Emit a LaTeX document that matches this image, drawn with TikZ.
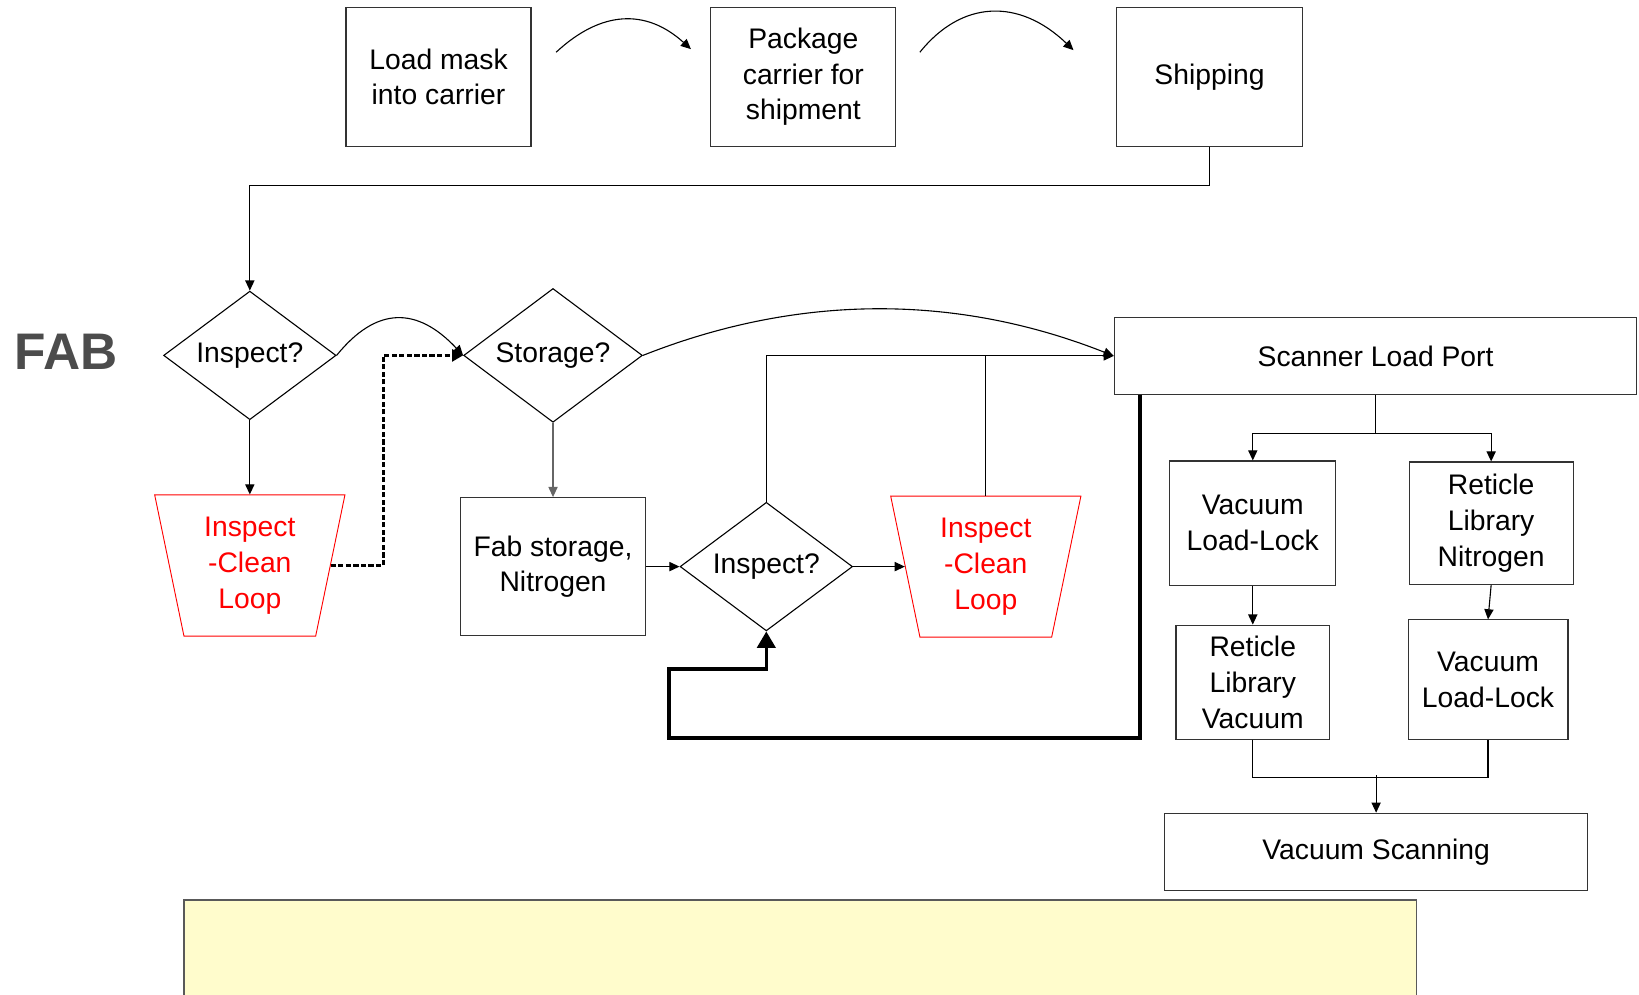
\documentclass[tikz,border=0pt]{standalone}
\usepackage{fontspec}
\setmainfont{Liberation Sans}
\usetikzlibrary{positioning,arrows.meta,shapes.geometric}

\begin{document}
\begin{tikzpicture}[
>={Triangle[length=5.5pt,width=5pt]},
line width=0.6pt,
every node/.style={font=\fontsize{15.4}{19.5}\selectfont},
box/.style={draw=black!80, align=center, inner sep=2pt},
decide/.style={draw, diamond, aspect=1.34, inner sep=0pt,
minimum width=3.3cm, minimum height=2.46cm},
cleanloop/.style={draw=red, text=red, line width=0.5pt, trapezium,
trapezium left angle=105, trapezium right angle=105,
trapezium stretches body, align=center,
minimum width=3.64cm, minimum height=2.7cm}
]

\useasboundingbox (0,0) rectangle (31.36,-19.02);

\node[draw=black!65, fill=yellow!20,
minimum width=23.58cm,
minimum height=3.6cm] (note) at (15.31,-19.02) {};

\node[font=\fontsize{28}{30}\selectfont\bfseries, text=black!70] (fablbl)
at (1.26,-6.74) {FAB};

% shipping side
\node[box,
minimum width=3.54cm,
minimum height=2.66cm] (load) at (8.39,-1.47)
{Load mask\\into carrier};

\node[box, right=3.42cm of load,
minimum width=3.54cm,
minimum height=2.66cm] (pack)
{Package\\carrier for\\shipment};

\node[box, right=4.2cm of pack,
minimum width=3.56cm,
minimum height=2.66cm] (ship)
{Shipping};

% fab
\node[decide] (insp) at (4.78,-6.8) {Inspect?};

\node[decide, right=2.42cm of insp,
minimum width=3.42cm,
minimum height=2.56cm] (stor)
{Storage?};

\node[cleanloop, below=1.42cm of insp] (loopa)
{Inspect\\-Clean\\Loop};

\node[box, below=1.42cm of stor,
minimum width=3.54cm,
minimum height=2.64cm] (fabst)
{Fab storage,\\Nitrogen};

\node[decide, right=0.64cm of fabst] (inspb) {Inspect?};

\node[cleanloop, right=0.99cm of inspb] (loopb)
{Inspect\\-Clean\\Loop};

% scanner
\node[box,
minimum width=10cm,
minimum height=1.46cm] (port) at (26.32,-6.81)
{Scanner Load Port};

\node[box,
minimum width=3.18cm,
minimum height=2.38cm] (vll) at (23.97,-10.01)
{Vacuum\\Load-Lock};

\node[box, right=1.38cm of vll,
minimum width=3.14cm,
minimum height=2.34cm] (rln)
{Reticle\\Library\\Nitrogen};

\node[box, below=0.74cm of vll,
minimum width=2.94cm,
minimum height=2.18cm] (rlv)
{Reticle\\Library\\Vacuum};

\node[box, below=0.66cm of rln, xshift=-0.06cm,
minimum width=3.06cm,
minimum height=2.28cm] (vllb)
{Vacuum\\Load-Lock};

\node[box,
minimum width=8.1cm,
minimum height=1.48cm] (vscan) at (26.33,-16.3)
{Vacuum Scanning};

\coordinate (c1a) at (10.64,-1.0);
\coordinate (c1b) at (13.22,-0.94);
\coordinate (c2a) at (17.6,-1.0);
\coordinate (c2b) at (20.54,-0.96);
\coordinate (back) at (12.8,-14.12);

\draw[->] (c1a) .. controls (11.5,-0.2) and (12.36,-0.16) .. (c1b);
\draw[->] (c2a) .. controls (18.4,0) and (19.5,0.04) .. (c2b);
\draw[->] (ship.south) -- ++(0,-0.74) -| (insp.north);

\draw[->] (insp.east) .. controls (7.2,-5.86) and (7.98,-5.86) .. (stor.west);
\draw[->] (insp.south) -- (loopa.north);
\draw[->, line width=1.6pt, dash pattern=on 2.8pt off 1.3pt,
>={Triangle[length=6pt,width=6.5pt]}]
(loopa.east) -- ++(1.0,0) |- (stor.west);
\draw[->, black!60] (stor.south) -- (fabst.north);
\draw[->] (fabst.east) -- (inspb.west);
\draw[->] (inspb.east) -- (loopb.west);
\draw[->] (inspb.north) |- (port.west);
\draw (loopb.north) -- (loopb.north |- port.west);
\draw[->] (stor.east) .. controls (15.28,-5.62) and (18.3,-5.62) .. (port.west);

\draw[->, line width=1.9pt, >={Triangle[length=9pt,width=10pt]}]
([xshift=0.5cm]port.south west) |- (back) -- ++(0,1.32) -| (inspb.south);

\draw (port.south) -- ++(0,-0.74) coordinate (split);
\draw[->] (split) -| (vll.north);
\draw[->] (split) -| (rln.north);
\draw[->] (vll.south) -- (rlv.north);
\draw[->] (rln.south) -- (vllb.north);
\draw (rlv.south) -- ++(0,-0.72) -| (vllb.south);
\draw[->] ([yshift=0.72cm]vscan.north) -- (vscan.north);

\end{tikzpicture}
\end{document}
